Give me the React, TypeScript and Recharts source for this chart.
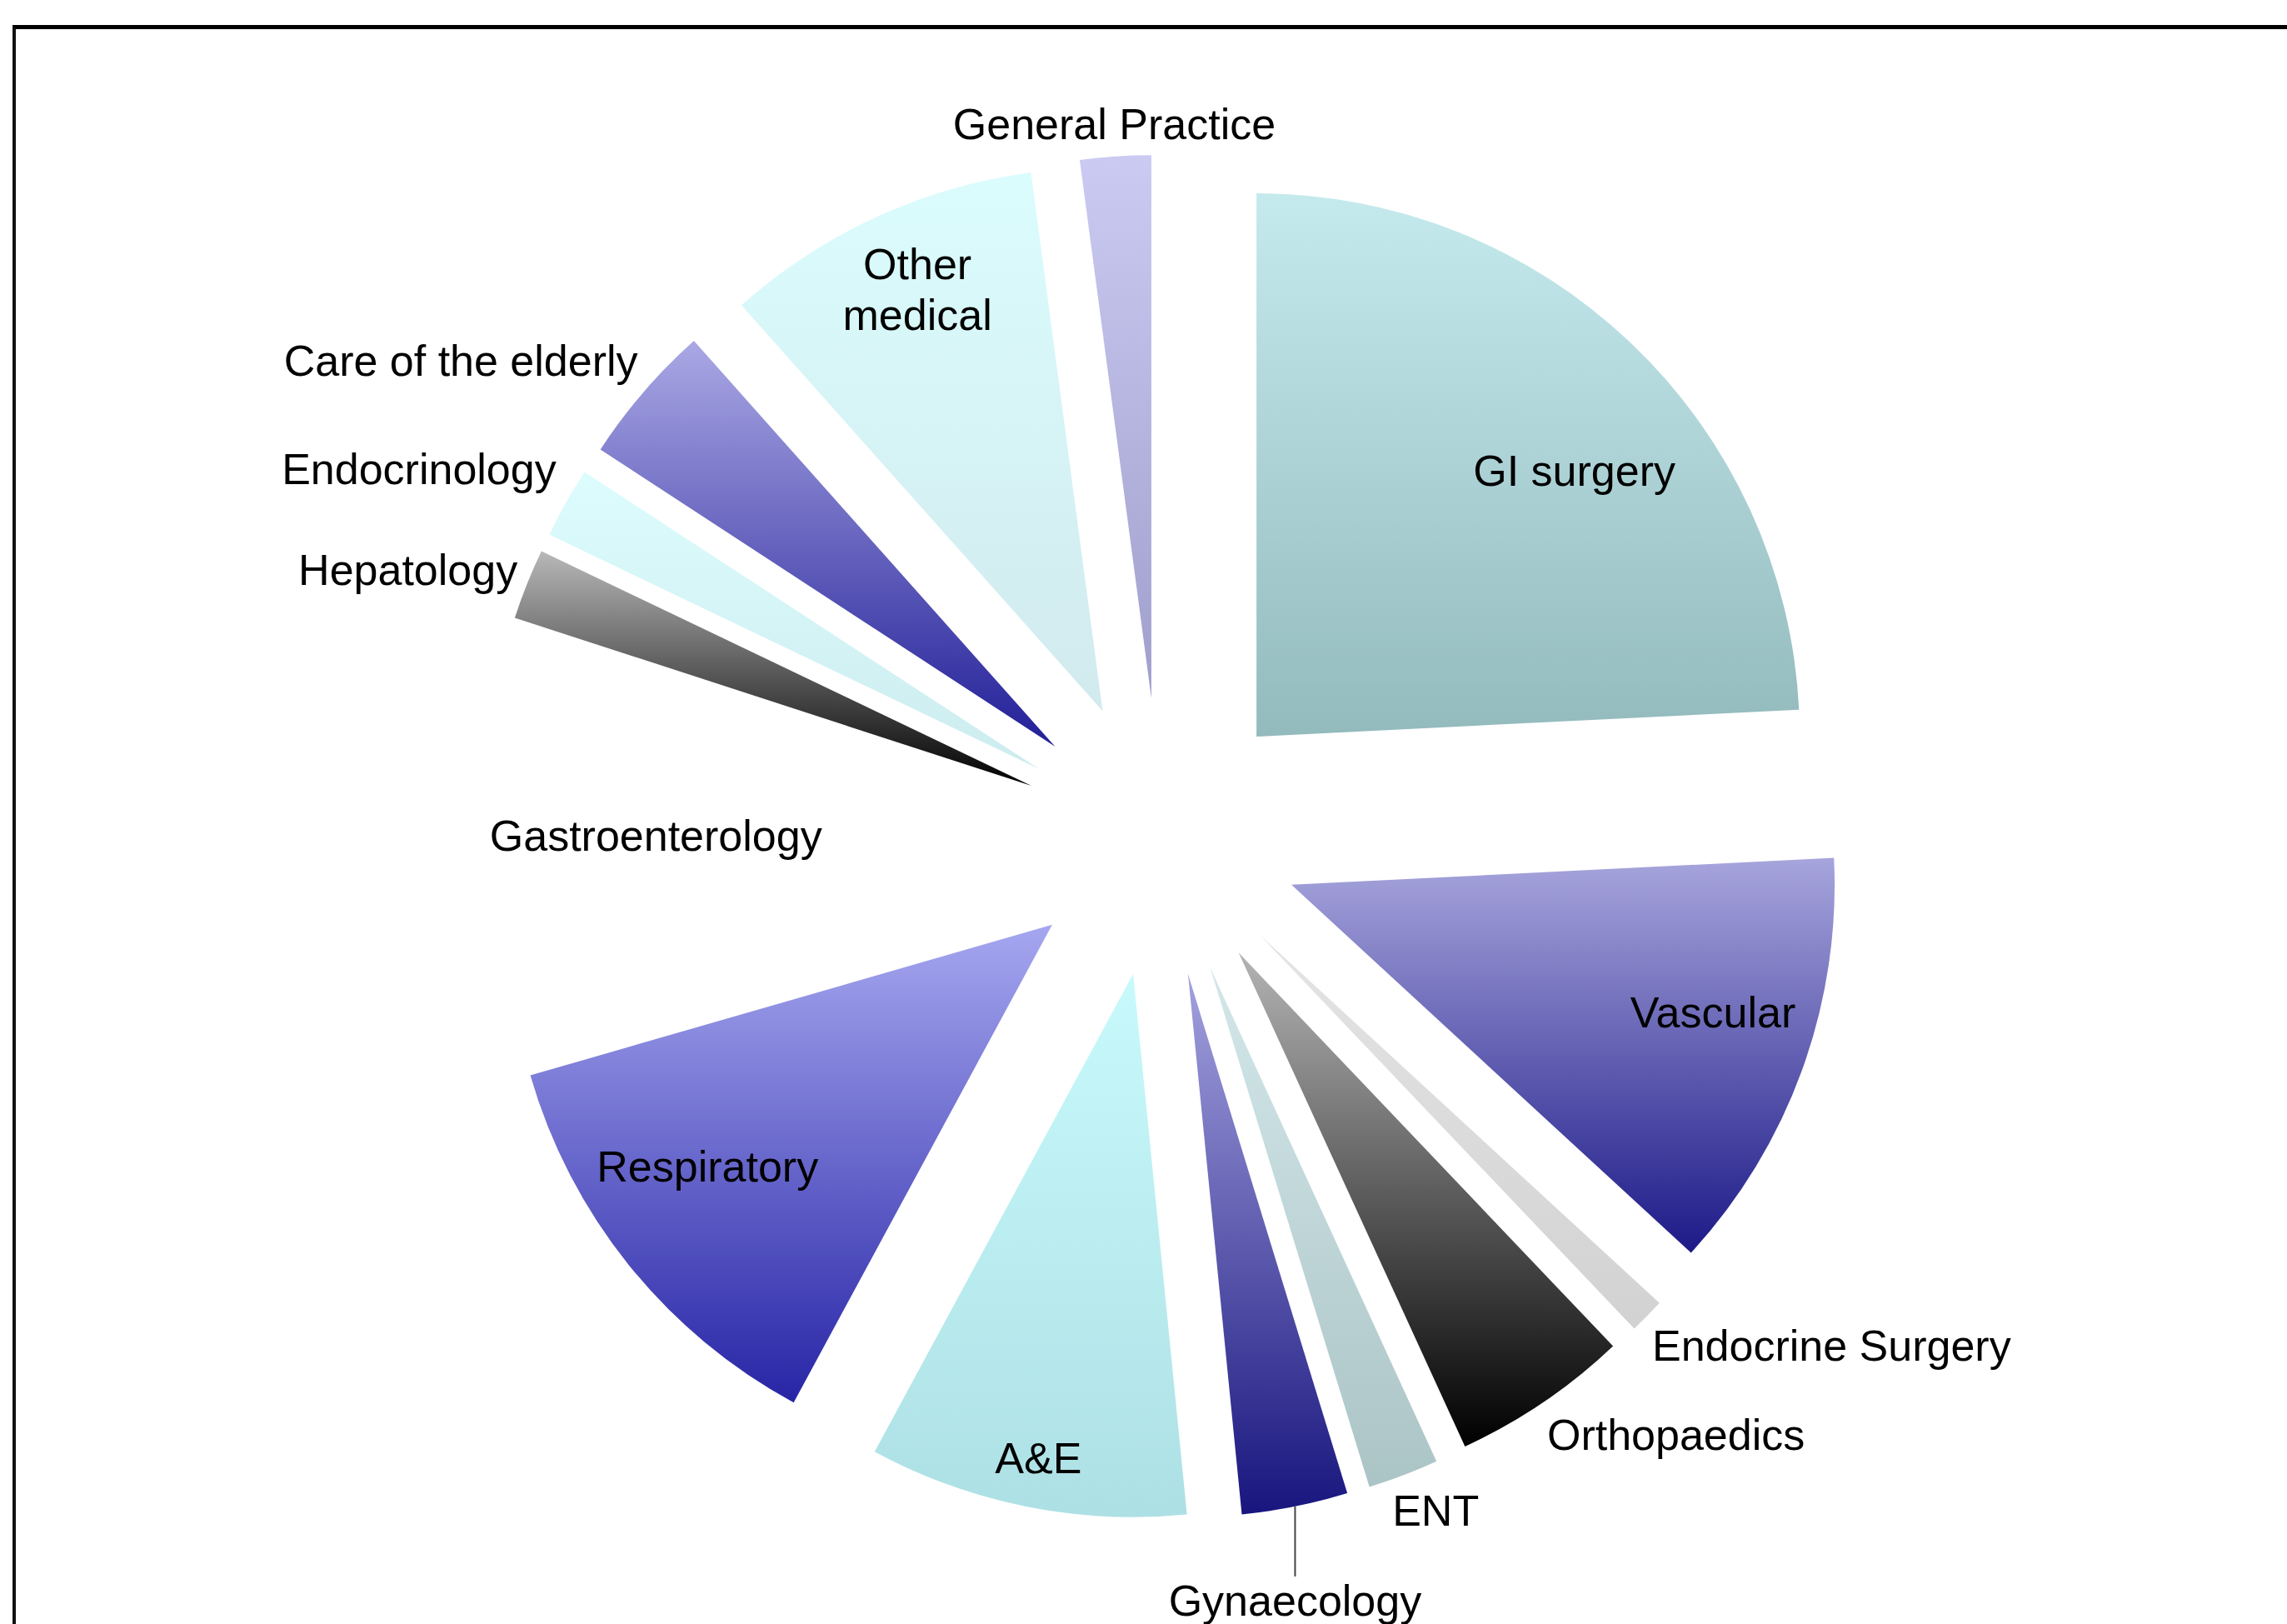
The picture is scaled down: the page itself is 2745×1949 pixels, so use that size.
import { PieChart, Pie, Sector } from 'recharts';

// Admissions by specialty (count of patients)
const specialties = [
  'GI surgery', 'Vascular', 'Endocrine Surgery', 'Orthopaedics', 'ENT', 'Gynaecology', 'A&E',
  'Respiratory', 'Gastroenterology', 'Hepatology', 'Endocrinology', 'Care of the elderly',
  'Other medical', 'General Practice',
];
const patients = [23, 12, 1, 5, 2, 3, 9, 12, 9, 2, 2, 4, 9, 2];

const data = specialties.map((name, i) => ({ name, value: patients[i] }));

// vertical gradient per slice (top, bottom); null = slice not filled
const sliceColors: ([string, string] | null)[] = [
  ['#c5eaee', '#93babd'],
  ['#a7a5dc', '#1d1a88'],
  ['#e4e4e4', '#d2d2d2'],
  ['#b4b4b4', '#000000'],
  ['#d3e7e9', '#abc4c6'],
  ['#a3a1de', '#18157e'],
  ['#c8fafc', '#ade0e4'],
  ['#a6a7f0', '#2825a6'],
  null,
  ['#b8b8b8', '#000000'],
  ['#dcfcfd', '#cdecef'],
  ['#aaa8e4', '#221f98'],
  ['#dbfcfd', '#d1eaee'],
  ['#cacaf2', '#a09fcc'],
];

type Spot = { r: number; da: number; anchor: 'start' | 'middle' | 'end'; leader?: number };
const labelSpots: Record<string, Spot> = {
  'GI surgery': { r: 0.763, da: -6.5, anchor: 'middle' },
  'Vascular': { r: 0.811, da: 3, anchor: 'middle' },
  'Endocrine Surgery': { r: 1.046, da: -1.8, anchor: 'start' },
  'Orthopaedics': { r: 1.054, da: -1.5, anchor: 'start' },
  'ENT': { r: 1.055, da: -2.3, anchor: 'start' },
  'Gynaecology': { r: 1, da: 0, anchor: 'middle', leader: 84 },
  'A&E': { r: 0.909, da: 0.3, anchor: 'middle' },
  'Respiratory': { r: 0.775, da: -3.8, anchor: 'middle' },
  'Gastroenterology': { r: 0.673, da: 1, anchor: 'middle' },
  'Hepatology': { r: 1.026, da: -1, anchor: 'end' },
  'Endocrinology': { r: 1.047, da: -2.5, anchor: 'end' },
  'Care of the elderly': { r: 1.046, da: -2, anchor: 'end' },
  'Other medical': { r: 0.847, da: -0.9, anchor: 'middle' },
  'General Practice': { r: 1.06, da: -0.1, anchor: 'middle' },
};

const RADIAN = Math.PI / 180;
const EXPLODE = 167;
const FONT = 52;

function renderSlice(props: any) {
  const { cx, cy, outerRadius, startAngle, endAngle, midAngle, index } = props;
  const name = specialties[index];
  const ox = cx + EXPLODE * Math.cos(-midAngle * RADIAN);
  const oy = cy + EXPLODE * Math.sin(-midAngle * RADIAN);
  const colors = sliceColors[index];
  const spot = labelSpots[name];
  const a = (midAngle + spot.da) * RADIAN;
  const lx = ox + outerRadius * spot.r * Math.cos(-a);
  let ly = oy + outerRadius * spot.r * Math.sin(-a);
  const lines = name === 'Other medical' ? ['Other', 'medical'] : [name];
  let leader = null;
  if (spot.leader) {
    leader = <line x1={lx} y1={ly} x2={lx} y2={ly + spot.leader} stroke="#444" strokeWidth={2} />;
    ly = ly + spot.leader + 29;
  }
  const gid = `slice-grad-${index}`;
  return (
    <g>
      {colors && (
        <>
          <defs>
            <linearGradient id={gid} x1="0" y1="0" x2="0" y2="1">
              <stop offset="0%" stopColor={colors[0]} />
              <stop offset="100%" stopColor={colors[1]} />
            </linearGradient>
          </defs>
          <Sector
            cx={ox}
            cy={oy}
            innerRadius={0}
            outerRadius={outerRadius}
            startAngle={startAngle}
            endAngle={endAngle}
            fill={`url(#${gid})`}
            stroke="none"
          />
        </>
      )}
      {leader}
      <text
        x={lx}
        y={ly - ((lines.length - 1) * 61) / 2}
        textAnchor={spot.anchor}
        dominantBaseline="central"
        fontFamily="'Liberation Sans', Arial, sans-serif"
        fontSize={FONT}
        fill="#000"
      >
        {lines.map((l, i) => (
          <tspan key={l} x={lx} dy={i === 0 ? 0 : 61}>
            {l}
          </tspan>
        ))}
      </text>
    </g>
  );
}

export default function App() {
  return (
    <div style={{ position: 'absolute', left: 0, top: 0, width: 2745, height: 1949, overflow: 'hidden', background: '#fff' }}>
      <div
        style={{
          position: 'absolute',
          left: 15,
          top: 30,
          width: 3000,
          height: 3000,
          borderTop: '5px solid #000',
          borderLeft: '4px solid #111',
        }}
      />
      <div style={{ position: 'absolute', left: 0, top: 0 }}>
        <PieChart width={2745} height={1949} margin={{ top: 0, right: 0, bottom: 0, left: 0 }}>
          <Pie
            data={data}
            dataKey="value"
            nameKey="name"
            cx={1393}
            cy={1005}
            outerRadius={652}
            startAngle={90}
            endAngle={-270}
            fill="none"
            stroke="none"
            label={renderSlice}
            labelLine={false}
            isAnimationActive={false}
          />
        </PieChart>
      </div>
    </div>
  );
}
